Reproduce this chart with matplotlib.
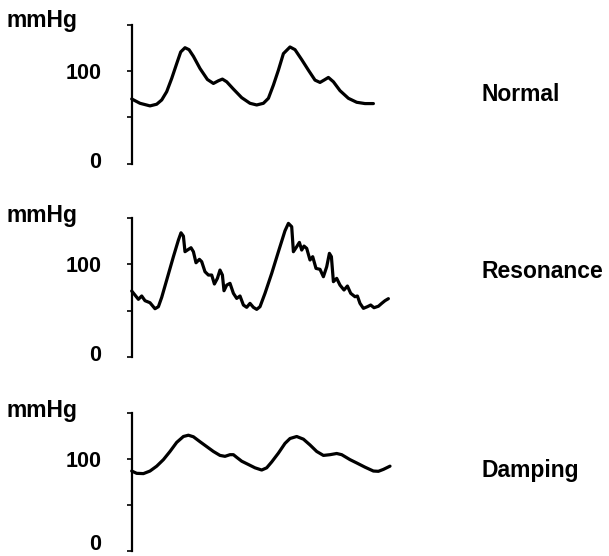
import matplotlib
matplotlib.use("Agg")
import matplotlib.pyplot as plt
from matplotlib.ticker import FixedLocator
from matplotlib.transforms import ScaledTranslation

plt.rcParams["font.family"] = ["Liberation Sans", "DejaVu Sans"]

# Arterial pressure traces (time in arbitrary units, pressure in mmHg)
t_normal = [0, 8.3, 18.3, 25, 30, 35, 40, 45, 49, 53.3, 57.3, 61.7, 68.3, 75.7,
            81.7, 86.7, 90.7, 95, 101.7, 110, 118.3, 125, 131.7, 136.7, 141.7,
            146.7, 151.7, 158.3, 163.3, 170, 176.7, 183.3, 188.3, 192.3, 196.7,
            201.7, 208.3, 216.7, 225, 233.3, 241.7]
p_normal = [69.9, 65.2, 62.4, 64.2, 68.8, 77.8, 92.1, 108.2, 120.8, 125.4, 123.3,
            116.1, 102.9, 91.0, 86.7, 89.6, 91.4, 88.5, 80.6, 71.3, 65.2, 63.4,
            65.2, 70.6, 84.9, 101.1, 119.0, 126.2, 123.3, 112.5, 101.1, 90.3,
            87.8, 90.3, 93.2, 88.5, 78.9, 70.6, 66.3, 64.9, 64.9]

t_resonance = [0, 3.3, 6.7, 10, 13.3, 18.3, 23.3, 26.7, 30, 35, 41.7, 46.7, 49.3,
               51.7, 53.3, 56.7, 59.3, 61.7, 64.3, 67.7, 70, 73.3, 76.7, 80, 82.7,
               85.7, 88.3, 90.7, 92.3, 95, 98.3, 101.7, 105, 108.3, 111.7, 115,
               118.3, 121.7, 125, 128.3, 133.3, 140, 146.7, 153.3, 156.7, 160,
               161.7, 165, 167.7, 170, 172.3, 175, 178.3, 181, 184.3, 188.3,
               191.7, 195, 197.7, 199.7, 201.7, 205, 208.3, 212.3, 215.7, 219,
               223.3, 225.7, 228.3, 231.7, 235.7, 239, 242.3, 246.7, 250, 253.3,
               256.7]
p_resonance = [71.2, 66.8, 62.2, 65.8, 60.7, 58.5, 52.0, 54.2, 64.3, 83.1, 108.4,
               126.4, 134.3, 130.7, 113.8, 116.3, 118.1, 113.8, 101.8, 105.5,
               103.0, 92.1, 88.5, 88.5, 78.8, 84.9, 93.9, 88.5, 71.5, 77.6, 79.5,
               68.7, 63.2, 65.8, 56.0, 53.5, 57.8, 53.5, 51.3, 54.2, 68.7, 90.3,
               113.8, 136.5, 144.5, 140.9, 113.8, 119.2, 123.9, 115.6, 119.9,
               117.4, 104.8, 108.4, 95.7, 94.7, 86.7, 97.5, 112.0, 108.4, 81.3,
               84.9, 77.6, 72.3, 76.6, 68.7, 65.0, 65.8, 57.8, 52.4, 54.2, 56.0,
               53.1, 54.7, 57.8, 60.7, 62.9]

t_damping = [0, 5, 11.7, 18.3, 25, 31.7, 38.3, 45, 51.7, 56.7, 61.7, 68.3, 75,
             81.7, 88.3, 93.3, 98.3, 101.7, 105, 110, 116.7, 123.3, 130, 135, 140,
             146.7, 153.3, 158.3, 165, 171.7, 178.3, 185, 191.7, 198.3, 205, 210,
             218.3, 225, 233.3, 241.7, 246.7, 251.7, 258.3]
p_damping = [86.5, 84.0, 83.7, 86.5, 91.8, 98.9, 107.8, 117.7, 124.1, 125.5,
             123.8, 118.4, 113.1, 107.8, 103.5, 102.5, 104.3, 104.3, 101.4, 97.2,
             93.6, 90.0, 87.6, 90.0, 96.4, 106.0, 116.6, 121.9, 124.1, 121.2,
             114.9, 107.8, 103.5, 104.3, 105.6, 104.3, 98.9, 95.3, 90.7, 86.5,
             86.2, 88.3, 91.8]

panel_names = ["Normal", "Resonance", "Damping"]
unit_label = "mmHg"
major_ticks = [0, 100]
minor_ticks = [50, 150]

W, H = 609, 556
fig = plt.figure(figsize=(W / 100, H / 100), dpi=100)

# axes rectangles in pixels: (left, y of 0 mmHg, y of 150 mmHg), measured from top
axes_px = [(131.7, 163.5, 25.0), (131.7, 356.7, 218.3), (131.7, 550.5, 412.7)]
unit_baseline_px = [27.3, 221.7, 417.5]
name_baseline_px = [101.0, 278.3, 477.0]
zero_lift_px = [3.5, 3.5, 8.0]
axes_width_px = 260.0

series = [(t_normal, p_normal), (t_resonance, p_resonance), (t_damping, p_damping)]

for i, (t, p) in enumerate(series):
    left, y0, y150 = axes_px[i]
    ax = fig.add_axes([left / W, 1 - y0 / H, axes_width_px / W, (y0 - y150) / H])
    ax.plot(t, p, color="black", lw=2.3, solid_joinstyle="round",
            solid_capstyle="round", clip_on=False)
    ax.set_xlim(0, axes_width_px)
    ax.set_ylim(0, 150)
    for side in ("top", "right", "bottom"):
        ax.spines[side].set_visible(False)
    ax.spines["left"].set_linewidth(1.6)
    ax.xaxis.set_visible(False)
    ax.yaxis.set_major_locator(FixedLocator(major_ticks))
    ax.yaxis.set_minor_locator(FixedLocator(minor_ticks))
    ax.tick_params(axis="y", which="both", direction="out", length=3.5,
                   width=1.2, color="black")
    ax.tick_params(axis="y", which="major", pad=18.5, labelsize=15.5)
    # the "0" label sits a little above its tick
    lift = ScaledTranslation(0, zero_lift_px[i] / 100, fig.dpi_scale_trans)
    ticks = ax.yaxis.get_major_ticks(len(major_ticks))
    for val, tick in zip(major_ticks, ticks):
        tick.label1.set_fontweight("bold")
        if val == 0:
            tick.label1.set_transform(tick.label1.get_transform() + lift)
    ax.patch.set_alpha(0)

    fig.text(6.5 / W, 1 - unit_baseline_px[i] / H, unit_label, fontsize=16.5,
             fontweight="bold", ha="left", va="baseline")
    fig.text(481.5 / W, 1 - name_baseline_px[i] / H, panel_names[i],
             fontsize=16.5, fontweight="bold", ha="left", va="baseline")

fig.savefig("out.png", dpi=100, facecolor="white")
